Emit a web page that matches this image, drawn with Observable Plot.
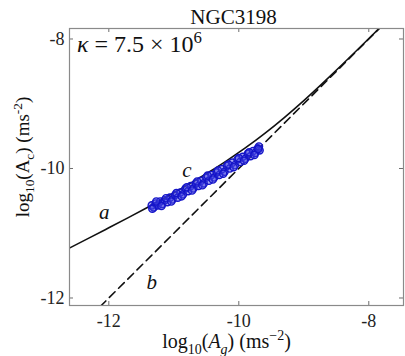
<!DOCTYPE html>
<html><head><meta charset="utf-8">
<script src="https://cdn.jsdelivr.net/npm/d3@7"></script>
<script src="https://cdn.jsdelivr.net/npm/@observablehq/plot@0.6"></script>
<style>body{margin:0;background:#fff}</style>
</head><body><div id="chart"></div>
<script>
const title = "NGC3198";
const xTicks = [-12, -10, -8];
const yTicks = [-12, -10, -8];
const xDomain = [-12.605, -7.466];
const yDomain = [-12.116, -7.838];

// curve a (model)
const curveX = [-12.6, -12.3, -12.0, -11.7, -11.4, -11.1, -10.8, -10.5, -10.2, -9.9, -9.6, -9.3, -9.0, -8.7, -8.4, -8.1, -7.8];
const curveY = [-11.226, -11.072, -10.916, -10.759, -10.598, -10.432, -10.261, -10.081, -9.889, -9.683, -9.458, -9.213, -8.951, -8.673, -8.386, -8.093, -7.796];

// line b (Newtonian, Ac = Ag)
const lineX = [-12.7, -7.3];
const lineY = [-12.7, -7.3];

// observed points c
const obsX = [-11.34, -11.31, -11.28, -11.25, -11.21, -11.18, -11.14, -11.10, -11.06, -11.02, -10.98, -10.94, -10.90, -10.86, -10.82, -10.78, -10.74, -10.70, -10.66, -10.62, -10.58, -10.54, -10.50, -10.46, -10.42, -10.38, -10.34, -10.30, -10.26, -10.22, -10.18, -10.14, -10.10, -10.06, -10.02, -9.98, -9.94, -9.90, -9.86, -9.82, -9.78, -9.75, -9.71, -9.68, -9.69,
  -11.33, -11.27, -11.19, -11.12, -11.04, -10.96, -10.88, -10.80, -10.72, -10.64, -10.56, -10.48, -10.40, -10.32, -10.24, -10.16, -10.08, -10.00, -9.92, -9.84, -9.76, -9.70];
const obsY = [-10.57, -10.60, -10.54, -10.57, -10.51, -10.55, -10.49, -10.52, -10.45, -10.48, -10.41, -10.45, -10.37, -10.40, -10.31, -10.35, -10.27, -10.31, -10.23, -10.27, -10.19, -10.23, -10.14, -10.19, -10.10, -10.14, -10.06, -10.10, -10.01, -10.05, -9.96, -10.00, -9.91, -9.95, -9.86, -9.90, -9.82, -9.85, -9.77, -9.81, -9.73, -9.76, -9.69, -9.72, -9.66,
  -10.62, -10.51, -10.58, -10.46, -10.51, -10.38, -10.43, -10.29, -10.34, -10.20, -10.26, -10.11, -10.17, -10.03, -10.08, -9.94, -9.98, -9.84, -9.88, -9.75, -9.79, -9.70];

const labelText = ["a", "b", "c"];
const labelX = [-12.07, -11.34, -10.80];
const labelY = [-10.68, -11.76, -10.03];

const curve = curveX.map((x, i) => ({x, y: curveY[i]}));
const line = lineX.map((x, i) => ({x, y: lineY[i]}));
const obs = obsX.map((x, i) => ({x, y: obsY[i]}));
const labels = labelText.map((t, i) => ({t, x: labelX[i], y: labelY[i]}));

const W = 405, H = 356, mL = 69, mR = 2, mT = 28, mB = 51;
const pw = W - mL - mR, ph = H - mT - mB;
const serif = "'Liberation Serif', 'DejaVu Serif', serif";
const tickColor = "#6e6e6e";

const plot = Plot.plot({
  width: W, height: H,
  marginLeft: mL, marginRight: mR, marginTop: mT, marginBottom: mB,
  style: {fontFamily: serif, fontSize: "18px", background: "#fff", color: "#222"},
  x: {domain: xDomain, label: null},
  y: {domain: yDomain, label: null},
  marks: [
    Plot.axisX({ticks: xTicks, tickSize: 0, tickPadding: 9, tickFormat: d => String(d), fontSize: 18}),
    Plot.axisY({ticks: yTicks, tickSize: 0, tickPadding: 5, tickFormat: d => String(d), fontSize: 18}),
    Plot.tickX(xTicks, {x: d => d, insetTop: ph - 4, stroke: tickColor}),
    Plot.tickX(xTicks, {x: d => d, insetBottom: ph - 4, stroke: tickColor}),
    Plot.tickY(yTicks, {y: d => d, insetRight: pw - 4, stroke: tickColor}),
    Plot.tickY(yTicks, {y: d => d, insetLeft: pw - 4, stroke: tickColor}),
    Plot.line(line, {x: "x", y: "y", stroke: "#111", strokeWidth: 1.6, strokeDasharray: "8,5", clip: true}),
    Plot.line(curve, {x: "x", y: "y", stroke: "#111", strokeWidth: 1.6, curve: "natural", clip: true}),
    Plot.dot(obs, {x: "x", y: "y", r: 3.6, stroke: "#1515c8", strokeWidth: 1.4, fill: "#4040e0", fillOpacity: 0.45}),
    Plot.text(labels, {x: "x", y: "y", text: "t", fontStyle: "italic", fontSize: 21, fontFamily: serif, fill: "#111"}),
    Plot.frame({stroke: "#8a8a8a", strokeWidth: 1.2})
  ]
});

document.getElementById("chart").appendChild(plot);
const svg = d3.select(plot);

function rich(g, parts, size) {
  const t = g.append("text").attr("font-family", serif).attr("font-size", size).attr("fill", "#111");
  let shift = 0;
  for (const [txt, kind, italic] of parts) {
    let target = 0, fs = size;
    if (kind === "sub") { target = size * 0.28; fs = size * 0.7; }
    if (kind === "sup") { target = -size * 0.38; fs = size * 0.7; }
    const ts = t.append("tspan").text(txt).attr("font-size", fs).attr("dy", target - shift);
    if (italic) ts.attr("font-style", "italic");
    shift = target;
  }
  return t;
}

// title
svg.append("text").text(title)
  .attr("x", 233.5).attr("y", 24).attr("text-anchor", "middle")
  .attr("font-family", serif).attr("font-size", 21).attr("fill", "#111");

// kappa annotation
const gk = svg.append("g").attr("transform", "translate(77,52)");
rich(gk, [["κ", "n", true], [" = 7.5 × 10", "n"], ["6", "sup"]], 24).attr("text-anchor", "start");

// x label
const gx = svg.append("g").attr("transform", "translate(226.5,348)");
rich(gx, [["log", "n"], ["10", "sub"], ["(", "n"], ["A", "n", true], ["g", "sub", true], [")", "n"], [" (ms", "n"], ["−2", "sup"], [")", "n"]], 20)
  .attr("text-anchor", "middle");

// y label
const gy = svg.append("g").attr("transform", "translate(29,157) rotate(-90)");
rich(gy, [["log", "n"], ["10", "sub"], ["(A", "n"], ["c", "sub"], [") (ms", "n"], ["-2", "sup"], [")", "n"]], 19)
  .attr("text-anchor", "middle");
</script></body></html>
